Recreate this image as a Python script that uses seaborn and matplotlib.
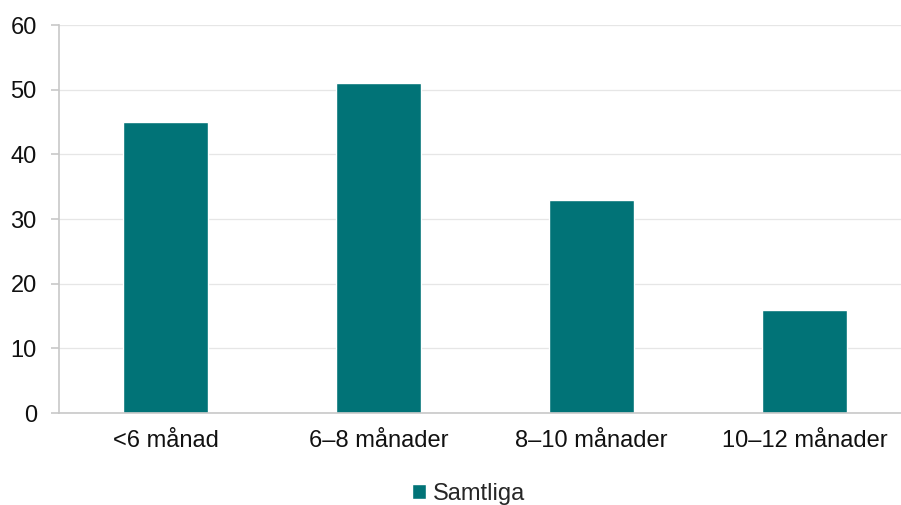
import matplotlib
matplotlib.use("Agg")
import matplotlib.pyplot as plt
import numpy as np
import pandas as pd
import seaborn as sns

categories = ["<6 månad", "6–8 månader", "8–10 månader", "10–12 månader"]
values = [45, 51, 33, 16]
series_name = "Samtliga"
y_ticks = [0, 10, 20, 30, 40, 50, 60]

BAR_COLOR = "#017377"
AXIS_COLOR = "#c8c8c8"
GRID_COLOR = "#e6e6e6"
FONT_SIZE = 17

sns.set_style("white")
plt.rcParams["font.family"] = ["Liberation Sans", "DejaVu Sans"]

df = pd.DataFrame({"kategori": categories, "antal": values, "serie": series_name})

fig = plt.figure(figsize=(9.01, 5.05), dpi=100)
ax = fig.add_axes([59 / 901, 92 / 505, 852 / 901, 388 / 505])

sns.barplot(data=df, x="kategori", y="antal", hue="serie", palette=[BAR_COLOR],
            width=0.4, saturation=1, ax=ax, legend=True)

ax.set_xlim(-0.5, len(categories) - 0.5)
ax.set_ylim(0, 60)
ax.set_yticks(y_ticks)
ax.set_xlabel("")
ax.set_ylabel("")
ax.yaxis.grid(True, color=GRID_COLOR, linewidth=0.9)
ax.set_axisbelow(True)

for side in ["top", "right"]:
    ax.spines[side].set_visible(False)
for side in ["left", "bottom"]:
    ax.spines[side].set_color(AXIS_COLOR)
    ax.spines[side].set_linewidth(1.2)

ax.set_xticks(np.arange(len(categories)))
ax.set_xticklabels(categories)
ax.set_xticks(np.arange(-0.5, len(categories) + 0.5, 1), minor=True)
ax.tick_params(axis="x", which="major", length=0, pad=12, labelsize=FONT_SIZE, colors="#111111")
ax.tick_params(axis="x", which="minor", length=6, color=AXIS_COLOR, width=1.2)
ax.tick_params(axis="y", which="major", length=6, color=AXIS_COLOR, width=1.2,
               pad=10, labelsize=FONT_SIZE, left=True, colors="#111111")
for t in ax.yaxis.get_ticklines():
    t.set_color(AXIS_COLOR)

ax.get_legend().remove()
handles, labels = ax.get_legend_handles_labels()
fig.legend(handles, labels, loc="center", bbox_to_anchor=(0.52, 0.022), frameon=False,
           fontsize=FONT_SIZE, handlelength=0.6, handleheight=0.6, handletextpad=0.3)

fig.savefig("out.png", dpi=100)
